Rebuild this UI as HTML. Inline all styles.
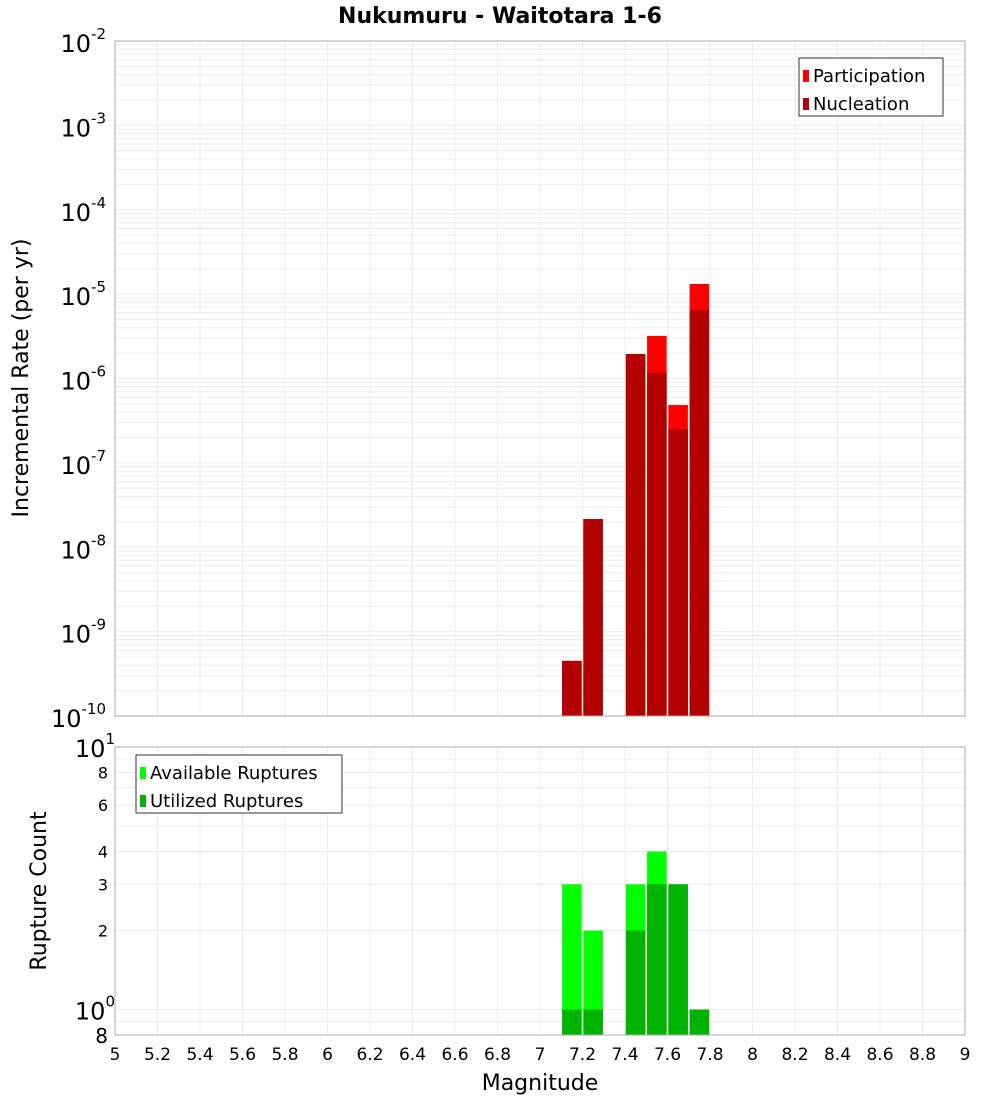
<!DOCTYPE html>
<html><head><meta charset="utf-8"><style>
body{margin:0;background:#fff;font-family:"DejaVu Sans","Liberation Sans",sans-serif;}
svg text{font-family:"DejaVu Sans","Liberation Sans",sans-serif;}
</style></head><body>
<svg id="c" width="1000" height="1100" xmlns="http://www.w3.org/2000/svg">
<text x="500" y="23" text-anchor="middle" font-size="22" font-weight="bold">Nukumuru - Waitotara 1-6</text>
<g id="topg"></g><g id="botg"></g>
<text transform="translate(28,378) rotate(-90)" text-anchor="middle" font-size="22">Incremental Rate (per yr)</text>
<text transform="translate(46,891) rotate(-90)" text-anchor="middle" font-size="22">Rupture Count</text>
<text x="540" y="1090" text-anchor="middle" font-size="22">Magnitude</text>
</svg>
<script>
const mags=[7.15,7.25,7.45,7.55,7.65,7.75];
const participation=[4.5e-10,2.16e-8,1.95e-6,3.2e-6,4.85e-7,1.32e-5];
const nucleation=[4.5e-10,2.16e-8,1.95e-6,1.16e-6,2.5e-7,6.5e-6];
const available=[3,2,3,4,3,1];
const utilized=[1,1,2,3,3,1];
const xTicks=["5","5.2","5.4","5.6","5.8","6","6.2","6.4","6.6","6.8","7","7.2","7.4","7.6","7.8","8","8.2","8.4","8.6","8.8","9"];
const topExp=[-2,-3,-4,-5,-6,-7,-8,-9,-10];
const botTicks=[0.8,1,2,3,4,6,8,10];

const NS="http://www.w3.org/2000/svg";
const L=115,R=965,T1=41,B1=716,T2=747,B2=1035;
const xs=m=>L+(m-5)/4*(R-L);
const y1=v=>T1+(-2-Math.log10(v))/8*(B1-T1);
const y2=v=>B2-(Math.log10(v)-Math.log10(0.8))/(1-Math.log10(0.8))*(B2-T2);
function mk(p,tag,a){const e=document.createElementNS(NS,tag);for(const k in a)e.setAttribute(k,a[k]);p.appendChild(e);return e;}
const gTop=document.getElementById('topg'),gBot=document.getElementById('botg');

for(let d=-10;d<-2;d++)for(let k=1;k<10;k++){const yy=y1(k*Math.pow(10,d));
 const g=mk(gTop,'line',{x1:L,x2:R,y1:yy,y2:yy,stroke:'#ececec','stroke-width':1});
 
 }
[0.8,0.9,1,2,3,4,5,6,7,8,9].forEach(v=>{const yy=y2(v);
 const g=mk(gBot,'line',{x1:L,x2:R,y1:yy,y2:yy,stroke:'#ececec','stroke-width':1});
 
 });
xTicks.forEach(t=>{const xx=xs(+t);
 const g=mk(gTop,'line',{x1:xx,x2:xx,y1:T1,y2:B1,stroke:'#ececec'});
 
 
 const g2=mk(gBot,'line',{x1:xx,x2:xx,y1:T2,y2:B2,stroke:'#ececec'});
 
 
 const tx=mk(gBot,'text',{x:xx,y:1060,'text-anchor':'middle','font-size':17});tx.textContent=t;
 
 });

const bw=0.092;
mags.forEach((m,i)=>{
 const x0=xs(m-bw/2),w=xs(m+bw/2)-x0;
 let r=mk(gTop,'rect',{x:x0,y:y1(participation[i]),width:w,height:B1-y1(participation[i]),fill:'#ff0000'});
 
 
 r=mk(gTop,'rect',{x:x0,y:y1(nucleation[i]),width:w,height:B1-y1(nucleation[i]),fill:'#b30000'});
 
 
 r=mk(gBot,'rect',{x:x0,y:y2(available[i]),width:w,height:B2-y2(available[i]),fill:'#00ff00'});
 
 
 r=mk(gBot,'rect',{x:x0,y:y2(utilized[i]),width:w,height:B2-y2(utilized[i]),fill:'#00b300'});
 
 
});

let f=mk(gTop,'rect',{x:L,y:T1,width:R-L,height:B1-T1,fill:'none',stroke:'#aaa'});


f=mk(gBot,'rect',{x:L,y:T2,width:R-L,height:B2-T2,fill:'none',stroke:'#aaa'});



topExp.forEach(e=>{const yy=y1(Math.pow(10,e));
 const t=mk(gTop,'text',{x:106,y:yy+11,'text-anchor':'end','font-size':24});
 
 
 t.textContent='10';const s=mk(t,'tspan',{dy:-13,'font-size':15});s.textContent=String(e);});
botTicks.forEach(v=>{const yy=y2(v);
 const t=mk(gBot,'text',{x:108,y:yy+6,'text-anchor':'end','font-size':16});
 
 
 if(v===1||v===10){t.setAttribute('font-size','24');t.setAttribute('y',yy+10);t.setAttribute('x',115);
  t.textContent='10';const s=mk(t,'tspan',{dy:-13,'font-size':15});s.textContent=v===1?'0':'1';}
 else if(v===0.8){t.setAttribute('font-size','20');t.setAttribute('y',yy+8);t.textContent='8';}
 else t.textContent=String(v);});

function legend(p,lx,ly,w,items,name){
 const g=mk(p,'g',{});
 
 
 mk(g,'rect',{x:lx,y:ly,width:w,height:58,fill:'#fff',stroke:'#333'});
 items.forEach((it,i)=>{mk(g,'rect',{x:lx+4,y:ly+12+i*28,width:6,height:12,fill:it[1]});
  const t=mk(g,'text',{x:lx+14,y:ly+24+i*28,'font-size':18});t.textContent=it[0];
  
  });
}
legend(gTop,799,58,144,[["Participation","#ff0000"],["Nucleation","#b30000"]],'top-legend');
legend(gBot,136,755,206,[["Available Ruptures","#00ff00"],["Utilized Ruptures","#00b300"]],'bottom-legend');
</script>
</body></html>
